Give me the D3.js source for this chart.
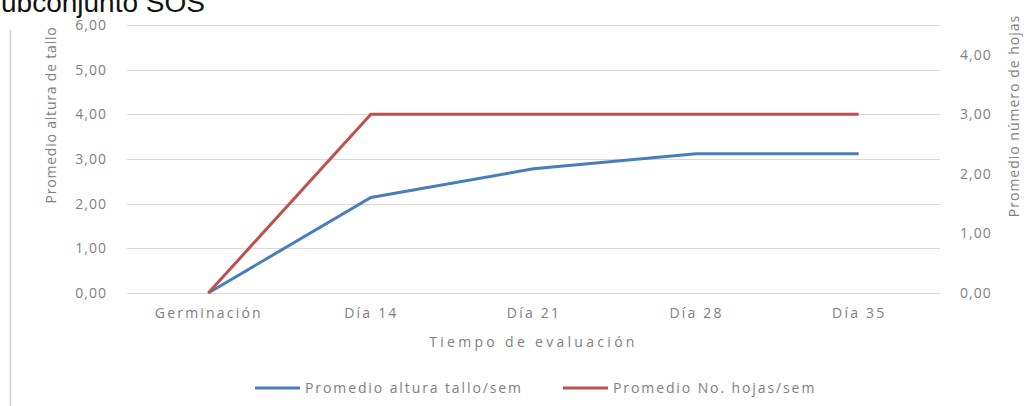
<!DOCTYPE html>
<html>
<head>
<meta charset="utf-8">
<script src="https://cdn.jsdelivr.net/npm/d3@7"></script>
<style>
  body { margin: 0; background: #fff; }
  svg { display: block; }
  .tick text, .lbl { font-family: "Open Sans", sans-serif; fill: #808080; }
</style>
</head>
<body>
<svg id="chart" width="1029" height="406"></svg>
<script>
// chart data
var categories = ["Germinación", "Día 14", "Día 21", "Día 28", "Día 35"];
var alturaTallo = [0, 2.14, 2.78, 3.12, 3.12];   // left axis
var numHojas = [0, 3, 3, 3, 3];                  // right axis
var leftTicks = [0, 1, 2, 3, 4, 5, 6];
var rightTicks = [0, 1, 2, 3, 4];
var seriesNames = ["Promedio altura tallo/sem", "Promedio No. hojas/sem"];

var blue = "#4a7ebb",
    red = "#c0504d";

var svg = d3.select("#chart");

// plot box (note: "top" is taken by window.top)
var pLeft = 127, pRight = 940, pTop = 25, pBottom = 293;

var x = d3.scalePoint().domain(categories).range([pLeft, pRight]).padding(0.5);
var yL = d3.scaleLinear().domain([0, 6]).range([pBottom, pTop]);
var yR = d3.scaleLinear().domain([0, 4.5]).range([pBottom, pTop]);

var fmt = function(d) { return d3.format(".2f")(d).replace(".", ","); };

// cropped caption at the very top
svg.append("text")
    .attr("x", 1)
    .attr("y", 12)
    .style("font-family", "Liberation Sans, Arial, sans-serif")
    .style("font-size", "28px")
    .style("fill", "#111")
    .text("ubconjunto SOS");

// frame line on the left
svg.append("line")
    .attr("x1", 10.5).attr("x2", 10.5)
    .attr("y1", 30).attr("y2", 406)
    .style("stroke", "#cfcfcf")
    .style("stroke-width", 1.5);

// gridlines
svg.append("g")
  .selectAll("line")
  .data(leftTicks)
  .enter().append("line")
    .attr("x1", pLeft).attr("x2", pRight)
    .attr("y1", function(d) { return Math.round(yL(d)) + 0.5; })
    .attr("y2", function(d) { return Math.round(yL(d)) + 0.5; })
    .style("stroke", "#d9d9d9")
    .style("stroke-width", 1.2);

// left axis
var axL = svg.append("g")
    .attr("transform", "translate(" + (pLeft - 20) + ",0)")
    .call(d3.axisLeft(yL).tickValues(leftTicks).tickFormat(fmt).tickSize(0).tickPadding(0));
axL.select(".domain").remove();
axL.selectAll("text").style("font-size", "14px").style("letter-spacing", "1px");

// right axis
var axR = svg.append("g")
    .attr("transform", "translate(" + (pRight + 20) + ",0)")
    .call(d3.axisRight(yR).tickValues(rightTicks).tickFormat(fmt).tickSize(0).tickPadding(0));
axR.select(".domain").remove();
axR.selectAll("text").style("font-size", "14px").style("letter-spacing", "1px");

// x axis
var axX = svg.append("g")
    .attr("transform", "translate(0," + (pBottom + 15) + ")")
    .call(d3.axisBottom(x).tickSize(0).tickPadding(0));
axX.select(".domain").remove();
axX.selectAll("text").style("font-size", "14px").style("letter-spacing", "2.2px");

// axis titles
svg.append("text")
    .attr("class", "lbl")
    .attr("x", (pLeft + pRight) / 2)
    .attr("y", 347)
    .attr("text-anchor", "middle")
    .style("font-size", "14px")
    .style("letter-spacing", "3.3px")
    .text("Tiempo de evaluación");

svg.append("text")
    .attr("class", "lbl")
    .attr("transform", "translate(56,115) rotate(-90)")
    .attr("text-anchor", "middle")
    .style("font-size", "14px")
    .style("letter-spacing", "0.8px")
    .text("Promedio altura de tallo");

svg.append("text")
    .attr("class", "lbl")
    .attr("transform", "translate(1019,116) rotate(-90)")
    .attr("text-anchor", "middle")
    .style("font-size", "14px")
    .style("letter-spacing", "1px")
    .text("Promedio número de hojas");

// lines
var lineL = d3.line()
    .x(function(d, i) { return x(categories[i]); })
    .y(function(d) { return yL(d); });
var lineR = d3.line()
    .x(function(d, i) { return x(categories[i]); })
    .y(function(d) { return yR(d); });

svg.append("path")
    .datum(alturaTallo)
    .attr("d", lineL)
    .style("fill", "none")
    .style("stroke", blue)
    .style("stroke-width", 3);

svg.append("path")
    .datum(numHojas)
    .attr("d", lineR)
    .style("fill", "none")
    .style("stroke", red)
    .style("stroke-width", 3);

// legend
var legendX = [255, 563];
var leg = svg.append("g")
  .selectAll("g")
  .data(seriesNames)
  .enter().append("g")
    .attr("transform", function(d, i) { return "translate(" + legendX[i] + ",388)"; });

leg.append("line")
    .attr("x1", 0).attr("x2", 45)
    .style("stroke", function(d, i) { return i ? red : blue; })
    .style("stroke-width", 3);

leg.append("text")
    .attr("class", "lbl")
    .attr("x", 50)
    .attr("y", 5)
    .style("font-size", "14px")
    .style("letter-spacing", "1.9px")
    .text(function(d) { return d; });
</script>
</body>
</html>
